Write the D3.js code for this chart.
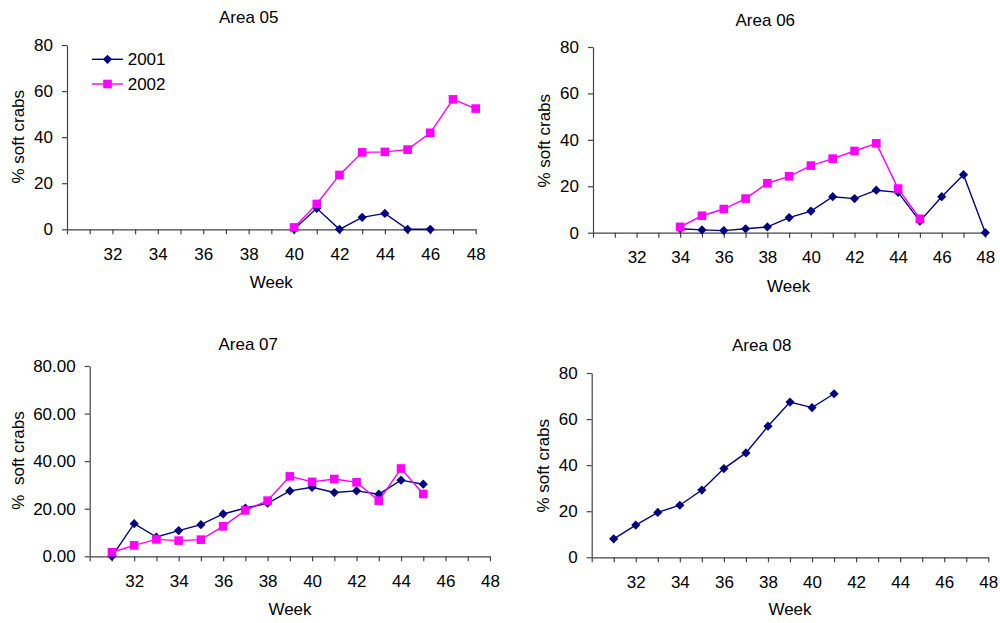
<!DOCTYPE html>
<html>
<head>
<meta charset="utf-8">
<script src="https://cdn.jsdelivr.net/npm/d3@7"></script>
<style>
  html, body { margin: 0; padding: 0; background: #fff; }
  svg { display: block; font-family: Arial, "Liberation Sans", sans-serif; }
  text { fill: #000; }
</style>
</head>
<body>
<svg id="chart" width="1000" height="623"></svg>
<script>
// ---------- data ----------
const seriesNames = ["2001", "2002"];
const xTickValues = [30,31,32,33,34,35,36,37,38,39,40,41,42,43,44,45,46,47,48];
const xTickLabels = [32,34,36,38,40,42,44,46,48];
const yTickValues = [0,20,40,60,80];

const area05Weeks2001 = [40,41,42,43,44,45,46];
const area05Values2001 = [0, 9.1, 0, 5.2, 6.9, 0, 0];
const area05Weeks2002 = [40,41,42,43,44,45,46,47,48];
const area05Values2002 = [0.8, 11, 23.6, 33.4, 33.6, 34.6, 41.9, 56.4, 52.4];

const area06Weeks2001 = [34,35,36,37,38,39,40,41,42,43,44,45,46,47,48];
const area06Values2001 = [1.7, 1.2, 0.9, 1.7, 2.5, 6.5, 9.3, 15.5, 14.7, 18.3, 17.4, 5, 15.5, 25, 0];
const area06Weeks2002 = [34,35,36,37,38,39,40,41,42,43,44,45];
const area06Values2002 = [2.5, 7.3, 10.2, 14.7, 21.3, 24.3, 28.9, 31.9, 35.2, 38.5, 19, 6];

const area07Weeks2001 = [31,32,33,34,35,36,37,38,39,40,41,42,43,44,45];
const area07Values2001 = [0, 13.7, 8.1, 10.8, 13.3, 17.8, 20.3, 22.3, 27.5, 29, 26.8, 27.5, 26.1, 32, 30.3];
const area07Weeks2002 = [31,32,33,34,35,36,37,38,39,40,41,42,43,44,45];
const area07Values2002 = [1.7, 4.6, 7.1, 6.6, 7, 12.6, 19.3, 23.4, 33.6, 31.3, 32.5, 31.1, 23.4, 36.9, 26.2];

const area08Weeks2001 = [31,32,33,34,35,36,37,38,39,40,41];
const area08Values2001 = [8, 14, 19.5, 22.6, 29.2, 38.5, 45.3, 56.9, 67.4, 65, 71];

// ---------- layout / style ----------
const NAVY = "#000080", MAGENTA = "#FF00FF", AXIS = "#444";
const FONT = 17;

const panels = [
  { title: "Area 05", ylab: "% soft crabs", fmt: d3.format("d"),
    x0: 67, x1: 475.7, yTop: 45, yBot: 229.3,
    titleX: 248.7, titleY: 23, weekX: 271.3, weekY: 287.5, ylabX: 24, ylabY: 136.7,
    series: [[area05Weeks2001, area05Values2001], [area05Weeks2002, area05Values2002]],
    legend: true },
  { title: "Area 06", ylab: "% soft crabs", fmt: d3.format("d"),
    x0: 593, x1: 985.3, yTop: 47, yBot: 232.7,
    titleX: 765.3, titleY: 26, weekX: 788.7, weekY: 291.7, ylabX: 550, ylabY: 140.7,
    series: [[area06Weeks2001, area06Values2001], [area06Weeks2002, area06Values2002]] },
  { title: "Area 07", ylab: "%  soft crabs", fmt: d3.format(".2f"),
    x0: 89.7, x1: 490, yTop: 366, yBot: 556.3,
    titleX: 248.2, titleY: 350, weekX: 290, weekY: 615, ylabX: 23.5, ylabY: 460.5,
    series: [[area07Weeks2001, area07Values2001], [area07Weeks2002, area07Values2002]] },
  { title: "Area 08", ylab: "% soft crabs", fmt: d3.format("d"),
    x0: 591.7, x1: 988.3, yTop: 373, yBot: 557.3,
    titleX: 761.7, titleY: 350.7, weekX: 790, weekY: 615, ylabX: 549.3, ylabY: 465.7,
    series: [[area08Weeks2001, area08Values2001]] }
];

const svg = d3.select("#chart");
const colors = [NAVY, MAGENTA];

function marker(g, i, x, y) {
  if (i === 0) {
    const r = 4.6;
    g.append("path")
      .attr("d", `M${x},${y - r}L${x + r},${y}L${x},${y + r}L${x - r},${y}Z`)
      .attr("fill", colors[i]);
  } else {
    const h = 4.3;
    g.append("rect").attr("x", x - h).attr("y", y - h).attr("width", 2 * h).attr("height", 2 * h)
      .attr("fill", colors[i]);
  }
}

panels.forEach(p => {
  const x = d3.scaleLinear().domain([30, 48]).range([p.x0, p.x1]);
  const y = d3.scaleLinear().domain([0, 80]).range([p.yBot, p.yTop]);
  const g = svg.append("g");

  // x axis
  const xa = g.append("g").attr("transform", `translate(0,${p.yBot})`)
    .call(d3.axisBottom(x).tickValues(xTickValues).tickSize(5).tickSizeOuter(0).tickPadding(13.3)
      .tickFormat(d => xTickLabels.includes(d) ? d : ""));
  // y axis
  const ya = g.append("g").attr("transform", `translate(${p.x0},0)`)
    .call(d3.axisLeft(y).tickValues(yTickValues).tickSize(5).tickSizeOuter(0).tickPadding(9)
      .tickFormat(p.fmt));
  [xa, ya].forEach(a => {
    a.select(".domain").attr("stroke", AXIS).attr("stroke-width", 1.2);
    a.selectAll(".tick line").attr("stroke", AXIS).attr("stroke-width", 1.2);
    a.selectAll("text").attr("font-size", FONT).attr("font-family", "Arial, 'Liberation Sans', sans-serif").attr("fill", "#000");
  });

  // titles
  g.append("text").attr("x", p.titleX).attr("y", p.titleY).attr("text-anchor", "middle")
    .attr("font-size", FONT).text(p.title);
  g.append("text").attr("x", p.weekX).attr("y", p.weekY).attr("text-anchor", "middle")
    .attr("font-size", FONT).text("Week");
  g.append("text").attr("transform", `translate(${p.ylabX},${p.ylabY}) rotate(-90)`)
    .attr("text-anchor", "middle").attr("font-size", FONT).style("white-space", "pre")
    .text(p.ylab);

  // series
  p.series.forEach(([wk, vals], i) => {
    const pts = wk.map((w, k) => [w, vals[k]]);
    g.append("path").datum(pts)
      .attr("fill", "none").attr("stroke", colors[i]).attr("stroke-width", 1.4)
      .attr("d", d3.line().x(d => x(d[0])).y(d => y(d[1])));
    pts.forEach(d => marker(g, i, x(d[0]), y(d[1])));
  });

  // legend
  if (p.legend) {
    const ly = [59.3, 84];
    seriesNames.forEach((name, i) => {
      g.append("line").attr("x1", 92).attr("x2", 123).attr("y1", ly[i]).attr("y2", ly[i])
        .attr("stroke", colors[i]).attr("stroke-width", 1.4);
      marker(g, i, 107.5, ly[i]);
      g.append("text").attr("x", 127.7).attr("y", ly[i]).attr("dy", "0.35em")
        .attr("font-size", FONT).text(name);
    });
  }
});
</script>
</body>
</html>
